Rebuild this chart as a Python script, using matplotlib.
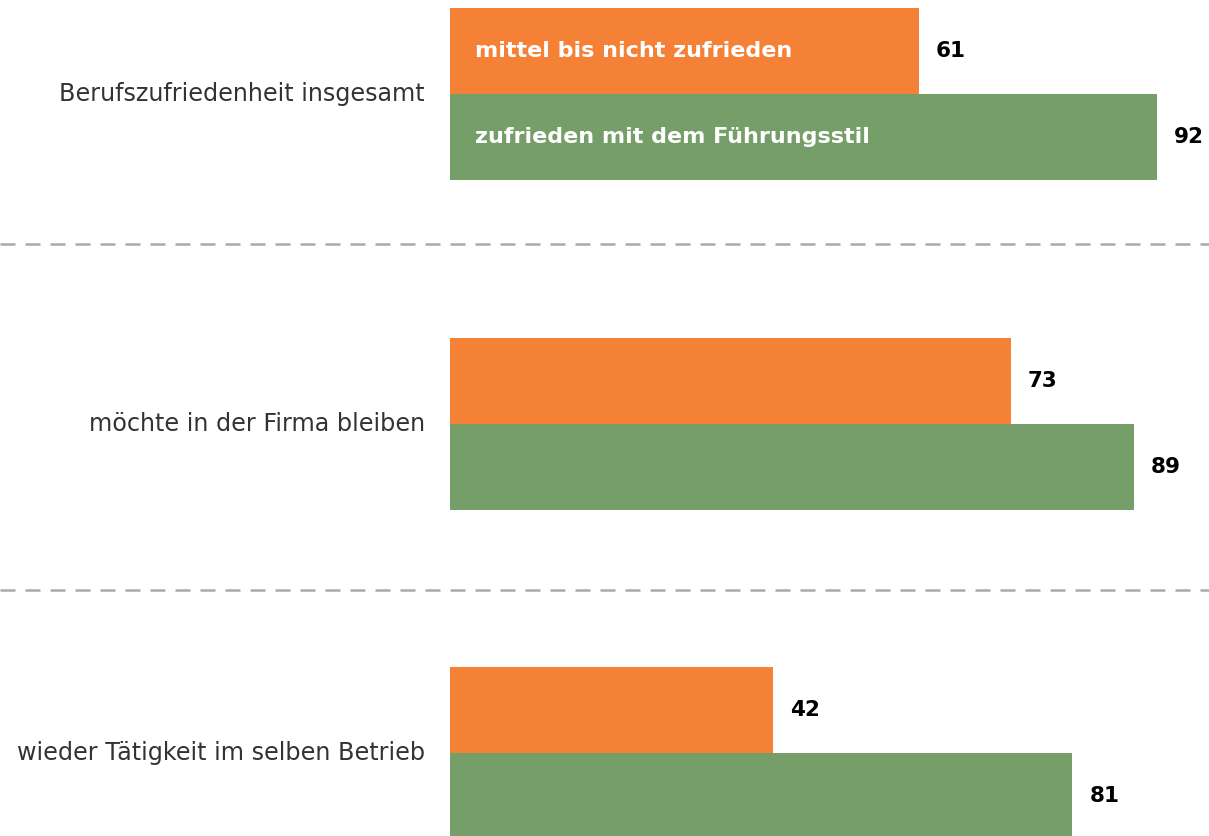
import matplotlib
matplotlib.use("Agg")
import matplotlib.pyplot as plt
import numpy as np

categories = ["Berufszufriedenheit insgesamt", "möchte in der Firma bleiben", "wieder Tätigkeit im selben Betrieb"]
series_names = ["mittel bis nicht zufrieden", "zufrieden mit dem Führungsstil"]
orange_vals = [61, 73, 42]
green_vals = [92, 89, 81]

ORANGE = "#F48135"
GREEN = "#759E69"

W, H = 1209, 836
fig = plt.figure(figsize=(W / 100, H / 100), dpi=100)
ax = fig.add_axes([0, 0, 1, 1])

k = 7.685  # px per unit
x0 = 450
ax.set_xlim(-x0 / k, (W - x0) / k)
sp = 329.5
ax.set_ylim((H - 94) / sp, -94 / sp)

pos = np.arange(len(categories))
bh = 86 / sp
ax.barh(pos - bh / 2, orange_vals, height=bh, color=ORANGE, edgecolor="none")
ax.barh(pos + bh / 2, green_vals, height=bh, color=GREEN, edgecolor="none")

fam = ["DejaVu Sans"]
for i, (o, g) in enumerate(zip(orange_vals, green_vals)):
    ax.text(o + 17 / k, i - bh / 2, str(o), va="center", ha="left", fontsize=15.5,
            fontweight="bold", color="black", family=fam)
    ax.text(g + 17 / k, i + bh / 2, str(g), va="center", ha="left", fontsize=15.5,
            fontweight="bold", color="black", family=fam)
    ax.text(-25 / k, i, categories[i], va="center", ha="right", fontsize=17.2,
            color="#333333", family=fam)

ax.text(25 / k, 0 - bh / 2, series_names[0], va="center", ha="left", fontsize=16,
        fontweight="bold", color="white", family=fam)
ax.text(25 / k, 0 + bh / 2, series_names[1], va="center", ha="left", fontsize=16,
        fontweight="bold", color="white", family=fam)

for y in [(244 - 94) / sp, (590 - 94) / sp]:
    ax.axhline(y, color="#aaaaaa", linestyle=(0, (6, 4)), linewidth=1.8)

ax.axis("off")
fig.savefig("out.png", dpi=100)
